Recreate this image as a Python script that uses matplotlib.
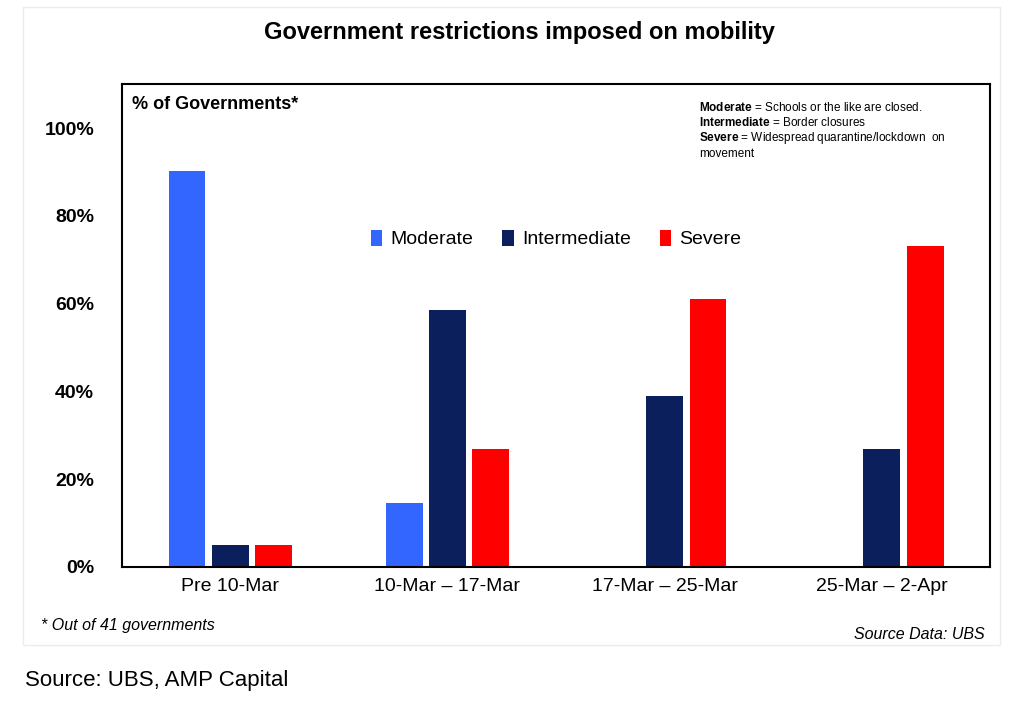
import matplotlib
matplotlib.use("Agg")
import matplotlib.pyplot as plt
import numpy as np
from matplotlib.patches import Rectangle

plt.rcParams['font.family'] = ['Liberation Sans', 'DejaVu Sans']
plt.rcParams['mathtext.fontset'] = 'custom'
plt.rcParams['mathtext.bf'] = 'Liberation Sans:bold'

categories = ["Pre 10-Mar", "10-Mar \u2013 17-Mar", "17-Mar \u2013 25-Mar", "25-Mar \u2013 2-Apr"]
moderate = [90.2, 14.6, 0, 0]
intermediate = [4.9, 58.5, 39.0, 26.8]
severe = [4.9, 26.8, 61.0, 73.2]
yticks = [0, 20, 40, 60, 80, 100]

fig = plt.figure(figsize=(10.24, 7.13), dpi=100)
ax = fig.add_axes([0.119, 0.205, 0.848, 0.677])
x = np.arange(len(categories))
w = 0.17
ax.bar(x - 0.2, moderate, w, color="#3366FF", label="Moderate")
ax.bar(x, intermediate, w, color="#0A1F5C", label="Intermediate")
ax.bar(x + 0.2, severe, w, color="#FF0000", label="Severe")
ax.set_xlim(-0.5, 3.5)
ax.set_ylim(0, 110)
ax.set_yticks(yticks)
ax.set_yticklabels([f"{v}%" for v in yticks], fontsize=14, fontweight="bold")
ax.set_xticks(x)
ax.set_xticklabels(categories, fontsize=14)
ax.tick_params(axis="y", length=0, pad=20)
ax.tick_params(axis="x", length=0, pad=8)
for s in ax.spines.values():
    s.set_linewidth(1.5)
    s.set_color("black")
ax.legend(loc="upper center", bbox_to_anchor=(0.5, 0.735), ncol=3, frameon=False,
          fontsize=14, handlelength=0.6, handleheight=0.9, columnspacing=1.5, handletextpad=0.4)
ax.text(0.012, 0.975, "% of Governments*", transform=ax.transAxes, fontsize=13,
        fontweight="bold", va="top")
ax.text(0.665, 0.965, r"$\bf{Moderate}$ = Schools or the like are closed." "\n"
        r"$\bf{Intermediate}$ = Border closures" "\n"
        r"$\bf{Severe}$ = Widespread quarantine/lockdown  on" "\n" "movement",
        transform=ax.transAxes, fontsize=8.5, va="top", linespacing=1.15)
fig.text(0.507, 0.955, "Government restrictions imposed on mobility", ha="center",
         va="center", fontsize=17, fontweight="bold")
fig.text(0.04, 0.117, "* Out of 41 governments", fontsize=11.5, style="italic")
fig.text(0.962, 0.104, "Source Data: UBS", fontsize=11.5, style="italic", ha="right")
fig.patches.append(Rectangle((0.022, 0.095), 0.955, 0.895, transform=fig.transFigure,
                             fill=False, edgecolor="#ebebeb", linewidth=1))
fig.text(0.024, 0.038, "Source: UBS, AMP Capital", fontsize=16)
fig.savefig("out.png", dpi=100)
